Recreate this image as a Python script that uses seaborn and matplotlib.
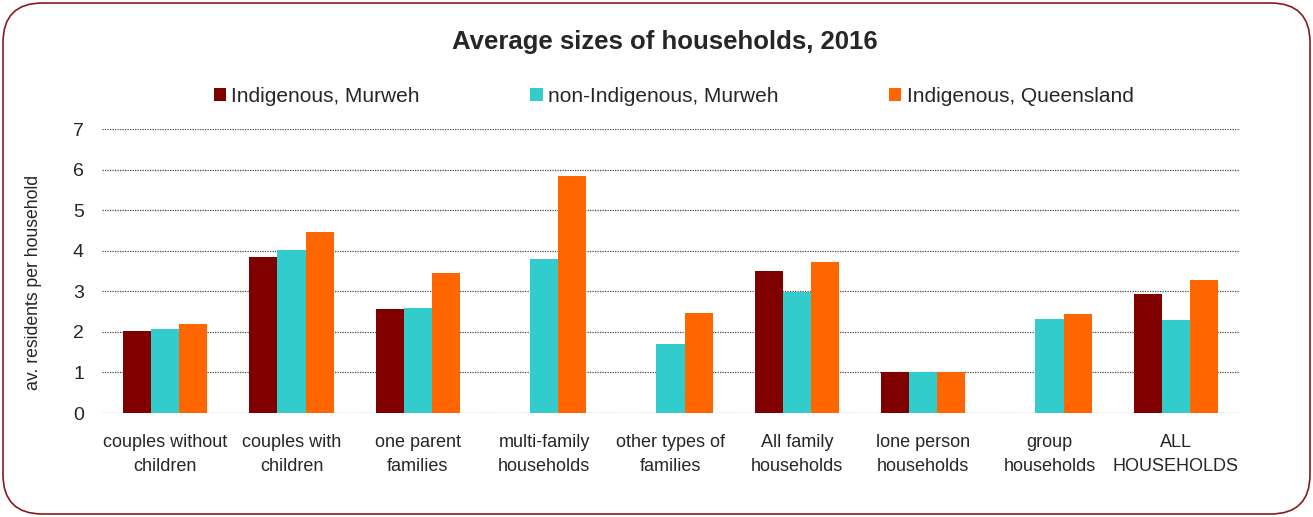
import matplotlib
matplotlib.use("Agg")
import matplotlib.pyplot as plt
import seaborn as sns
import pandas as pd
import numpy as np
from matplotlib.patches import FancyBboxPatch, Patch

categories = ["couples without\nchildren", "couples with\nchildren", "one parent\nfamilies",
              "multi-family\nhouseholds", "other types of\nfamilies", "All family\nhouseholds",
              "lone person\nhouseholds", "group\nhouseholds", "ALL\nHOUSEHOLDS"]
series = ["Indigenous, Murweh", "non-Indigenous, Murweh", "Indigenous, Queensland"]
indig_murweh = [2.01, 3.85, 2.56, np.nan, np.nan, 3.49, 1.0, np.nan, 2.94]
nonindig_murweh = [2.07, 4.02, 2.59, 3.80, 1.70, 2.98, 1.0, 2.32, 2.30]
indig_qld = [2.19, 4.46, 3.44, 5.84, 2.47, 3.72, 1.0, 2.45, 3.28]
colors = ["#800000", "#33CCCC", "#FF6600"]

rows = []
for s, vals in zip(series, [indig_murweh, nonindig_murweh, indig_qld]):
    for c, v in zip(categories, vals):
        rows.append({"category": c, "series": s, "value": v})
df = pd.DataFrame(rows)

sns.set_style("white")
plt.rcParams['font.family'] = ['Liberation Sans', 'DejaVu Sans']

fig = plt.figure(figsize=(13.13, 5.17), dpi=100)
ax = fig.add_axes([102/1313, 1-413/517, (1239-102)/1313, (413-129)/517])

sns.barplot(data=df, x="category", y="value", hue="series", palette=colors,
            order=categories, hue_order=series, width=0.665, ax=ax,
            linewidth=0, legend=False, saturation=1)

ax.set_ylim(0, 7)
ax.set_xlim(-0.5, len(categories) - 0.5)
ax.set_yticks(range(0, 8))
ax.yaxis.grid(True, linestyle=(0, (1, 1)), color="#444444", linewidth=0.9)
ax.set_axisbelow(True)
for sp in ax.spines.values():
    sp.set_visible(False)
ax.tick_params(axis="y", length=0, labelsize=14, pad=13)
ax.tick_params(axis="x", length=0, labelsize=13, pad=15)
for lbl in ax.get_xticklabels():
    lbl.set_linespacing(1.55)
ax.set_xlabel("")
ax.set_ylabel("av. residents per household", fontsize=12.7)
ax.yaxis.set_label_coords(-0.053, 0.46)

fig.text(0.5 + 8/1313, 1-42/517, "Average sizes of households, 2016", ha="center", va="center",
         fontsize=18.5, fontweight="bold")

handles = [Patch(facecolor=c, edgecolor="none") for c in colors]
fig.legend(handles, series, loc="center", bbox_to_anchor=(0.513, 1-96/517), ncol=3,
           frameon=False, fontsize=15, handlelength=0.6, handleheight=0.6,
           handletextpad=0.25, columnspacing=5.3)

frame = FancyBboxPatch((3/1313, 3/517), 1307/1313, 511/517,
                       boxstyle="round,pad=0,rounding_size=0.03", transform=fig.transFigure,
                       facecolor="none", edgecolor="#8B1A1A", linewidth=1.2,
                       mutation_aspect=1313/517)
fig.patches.append(frame)

fig.savefig("out.png", dpi=100)
